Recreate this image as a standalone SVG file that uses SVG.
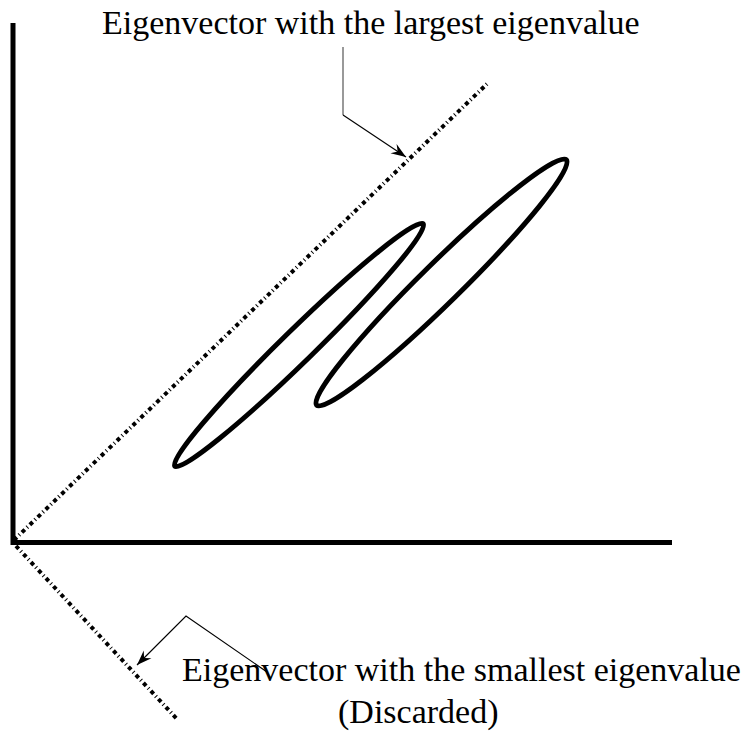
<svg xmlns="http://www.w3.org/2000/svg" width="744" height="733" viewBox="0 0 744 733">
<defs>
<marker id="arr" markerUnits="userSpaceOnUse" markerWidth="20" markerHeight="14" viewBox="-16 -7 18 14" refX="0" refY="0" orient="auto">
<path d="M0,0 L-15,-5.5 L-10,0 L-15,5.5 Z" fill="#000"/>
</marker>
</defs>
<style>
.axis{fill:none;stroke:#000;stroke-width:5;stroke-linejoin:miter}
.eig{fill:none;stroke:#000;stroke-width:4;stroke-dasharray:4 3 1 3}
.ell{fill:none;stroke:#000;stroke-width:5}
.lead{fill:none;stroke:#000;stroke-width:1.2}
.lbl{font-family:"Liberation Serif","Times New Roman",serif;font-size:34px;fill:#000}
</style>
<g id="axes">
<path class="axis" d="M13,23 V542.5 H672"/>
</g>
<g id="eigenvectors">
<line id="ev-largest" class="eig" x1="14" y1="540" x2="489" y2="82"/>
<line id="ev-smallest" class="eig" x1="16" y1="546" x2="177" y2="719"/>
</g>
<g id="cluster-left">
<ellipse class="ell" cx="299" cy="345" rx="173.5" ry="16" transform="rotate(-44.3 299 345)"/>
</g>
<g id="cluster-right">
<ellipse class="ell" cx="441.5" cy="282.5" rx="175" ry="20" transform="rotate(-44.5 441.5 282.5)"/>
</g>
<g id="connectors">
<line x1="343" y1="47" x2="343" y2="115" stroke="#777" stroke-width="1.5"/>
<path class="lead" d="M343,115 L406,157" marker-end="url(#arr)"/>
<path class="lead" d="M267,672 L186,616 L137,665" marker-end="url(#arr)"/>
</g>
<g id="label-largest">
<text class="lbl" x="102" y="34">Eigenvector with the largest eigenvalue</text>
</g>
<g id="label-smallest">
<text class="lbl" x="182" y="681">Eigenvector with the smallest eigenvalue</text>
<text class="lbl" x="338" y="723">(Discarded)</text>
</g>
</svg>
